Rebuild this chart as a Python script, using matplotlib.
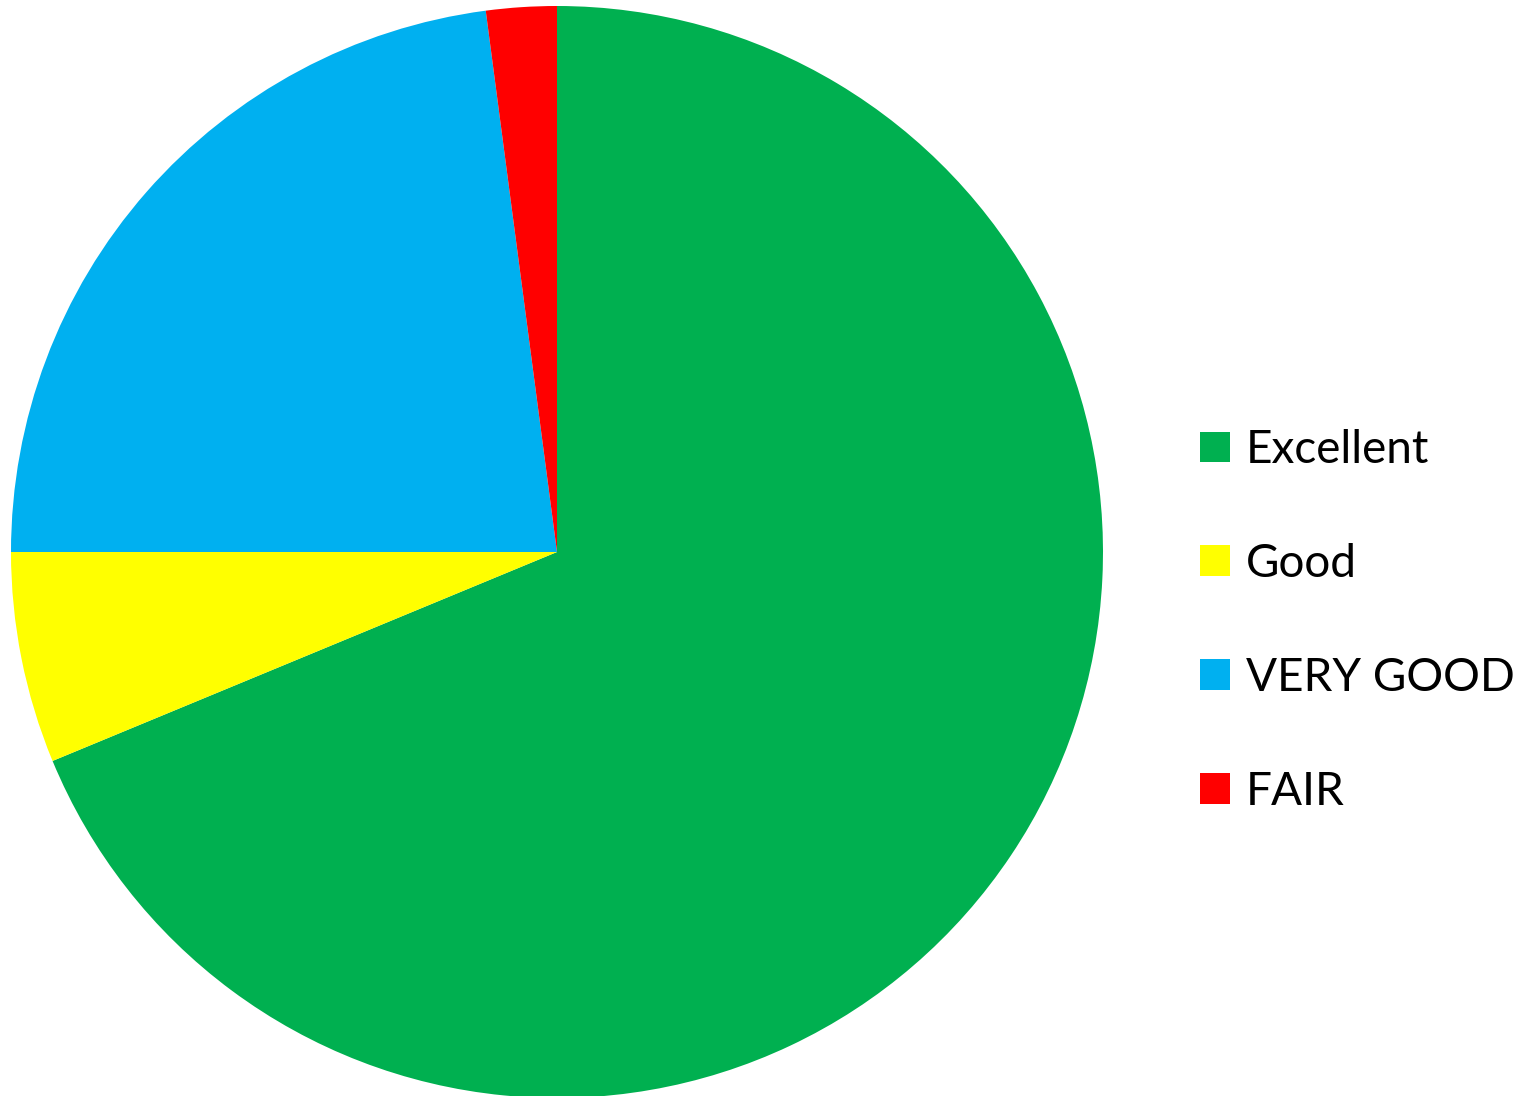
import matplotlib
matplotlib.use("Agg")
import matplotlib.pyplot as plt

labels = ["Excellent", "Good", "VERY GOOD", "FAIR"]
values = [33, 3, 11, 1]
colors = ["#00B050", "#FFFF00", "#00B0F0", "#FF0000"]

plt.rcParams['font.family'] = ['Lato', 'DejaVu Sans']

W, H = 1520, 1096
fig = plt.figure(figsize=(W / 100, H / 100), dpi=100)

# pie centre (557, 552) px from top-left, radius 546 px
cx, cy, r = 557, 552, 546
ax = fig.add_axes([(cx - r) / W, (H - cy - r) / H, 2 * r / W, 2 * r / H])
wedges, _ = ax.pie(values, colors=colors, startangle=90, counterclock=False,
                   radius=1, wedgeprops={"linewidth": 0})
ax.set_xlim(-1, 1)
ax.set_ylim(-1, 1)
ax.set_aspect("equal")
ax.axis("off")

fig.legend(wedges, labels, loc="upper left",
           bbox_to_anchor=(1200 / W, 1 - 429 / H),
           frameon=False, fontsize=33, handlelength=0.655, handleheight=0.655,
           handletextpad=0.35, labelspacing=1.57, borderpad=0, borderaxespad=0)

fig.savefig("out.png", dpi=100)
